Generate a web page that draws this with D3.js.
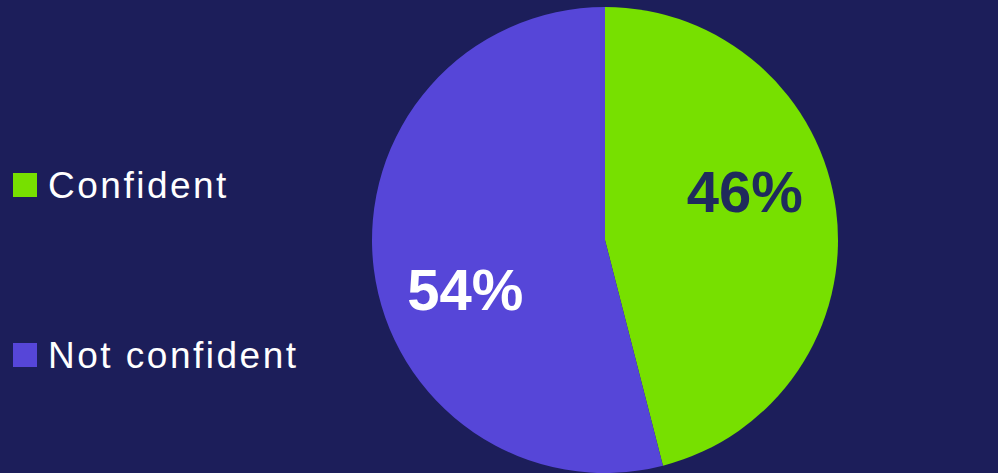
<!DOCTYPE html>
<html>
<head>
<meta charset="utf-8">
<script src="https://cdn.jsdelivr.net/npm/d3@7"></script>
<style>
  html, body { margin: 0; padding: 0; background: #1c1e5a; }
  svg { display: block; }
</style>
</head>
<body>
<svg id="chart" width="998" height="473"></svg>
<script>
// chart data
const categories = ['Confident', 'Not confident']
const values = [46, 54]
const colors = ['#77e000', '#5646d8']
const labelColors = ['#1f2b5c', '#ffffff']

const width = 998
const height = 473
const radius = 233
const cx = 605
const cy = 240

const svg = d3.select('#chart')

svg.append('rect')
  .attr('width', width)
  .attr('height', height)
  .attr('fill', '#1c1e5a')

const pie = d3.pie().sort(null).value(d => d)
const arcs = pie(values)

const arc = d3.arc().innerRadius(0).outerRadius(radius)

const g = svg.append('g').attr('transform', `translate(${cx},${cy})`)

g.selectAll('path.slice')
  .data(arcs)
  .enter()
  .append('path')
  .attr('class', 'slice')
  .attr('d', arc)
  .attr('fill', (d, i) => colors[i])

// labels sit a little counter-clockwise of the slice middle
const labelRadius = 148
const labelShift = -12 * Math.PI / 180

g.selectAll('text.pct')
  .data(arcs)
  .enter()
  .append('text')
  .attr('class', 'pct')
  .attr('x', d => labelRadius * Math.sin((d.startAngle + d.endAngle) / 2 + labelShift))
  .attr('y', d => -labelRadius * Math.cos((d.startAngle + d.endAngle) / 2 + labelShift))
  .attr('dy', '0.36em')
  .attr('text-anchor', 'middle')
  .attr('font-family', 'Liberation Sans, Arial, sans-serif')
  .attr('font-weight', 'bold')
  .attr('font-size', '58px')
  .attr('fill', (d, i) => labelColors[i])
  .text(d => d.data + '%')

// legend
const legendY = d3.scalePoint()
  .domain(categories)
  .range([185, 355])

const legend = svg.selectAll('g.legend')
  .data(categories)
  .enter()
  .append('g')
  .attr('class', 'legend')
  .attr('transform', d => `translate(13,${legendY(d)})`)

legend.append('rect')
  .attr('x', 0)
  .attr('y', -12)
  .attr('width', 24)
  .attr('height', 24)
  .attr('fill', (d, i) => colors[i])

legend.append('text')
  .attr('x', 35)
  .attr('y', 0)
  .attr('dy', '0.36em')
  .attr('font-family', 'Liberation Sans, Arial, sans-serif')
  .attr('font-size', '37px')
  .attr('letter-spacing', '2.5px')
  .attr('fill', '#ffffff')
  .text(d => d)
</script>
</body>
</html>
